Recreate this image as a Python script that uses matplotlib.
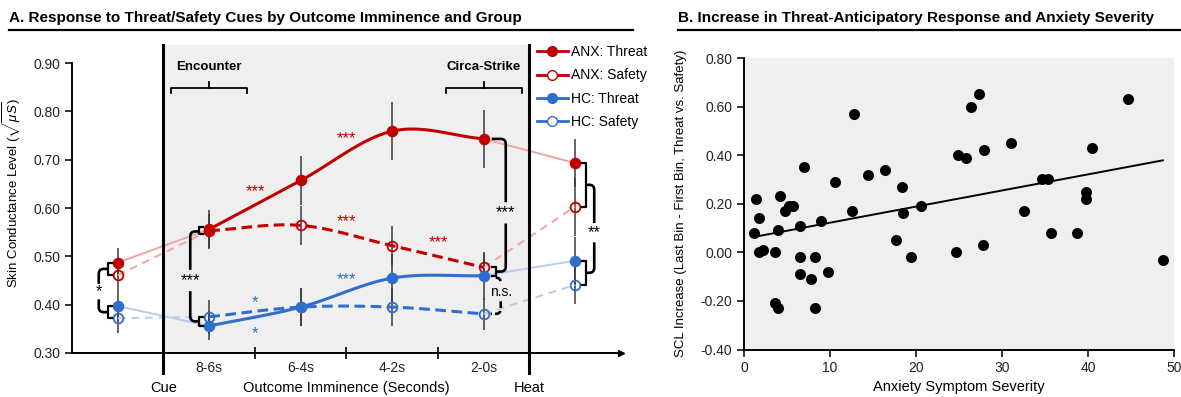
import numpy as np
import matplotlib.pyplot as plt
from matplotlib.path import Path
from matplotlib.patches import PathPatch
from matplotlib.lines import Line2D

plt.rcParams['font.family'] = ['Liberation Sans', 'DejaVu Sans']
plt.rcParams['axes.unicode_minus'] = False
plt.rcParams['mathtext.fontset'] = 'custom'
plt.rcParams['mathtext.rm'] = 'Liberation Sans'
plt.rcParams['mathtext.it'] = 'Liberation Sans:italic'

# ---- panel A data ----
bins = ['8-6s', '6-4s', '4-2s', '2-0s']
xpos = [0, 1, 2, 3, 4, 5]          # cue, 4 bins, heat
anx_threat = [0.487, 0.556, 0.657, 0.759, 0.743, 0.693]
anx_safe = [0.461, 0.553, 0.564, 0.522, 0.477, 0.603]
hc_threat = [0.397, 0.356, 0.395, 0.455, 0.460, 0.491]
hc_safe = [0.372, 0.375, 0.395, 0.395, 0.381, 0.441]
anx_threat_err = [0.030, 0.040, 0.050, 0.060, 0.060, 0.050]
anx_safe_err = [0.035, 0.035, 0.040, 0.040, 0.030, 0.060]
hc_threat_err = [0.030, 0.030, 0.040, 0.050, 0.050, 0.050]
hc_safe_err = [0.030, 0.035, 0.040, 0.040, 0.033, 0.040]

# ---- panel B data ----
severity = [12.8, 27.3, 26.4, 44.7, 24.9, 25.8, 27.9, 31.0, 40.5, 7.0,
            14.4, 16.4, 10.6, 18.4, 34.6, 35.4, 39.8, 1.4, 4.2, 39.8,
            1.7, 1.2, 4.0, 4.8, 5.2, 5.7, 6.5, 8.9, 12.5, 18.5,
            20.6, 17.7, 32.5, 35.7, 38.7, 27.8, 24.6, 19.4, 48.7, 1.7,
            2.2, 3.6, 6.5, 8.3, 6.5, 7.8, 9.8, 3.6, 4.0, 8.3]
scl_increase = [0.57, 0.65, 0.60, 0.63, 0.40, 0.39, 0.42, 0.45, 0.43, 0.35,
                0.32, 0.34, 0.29, 0.27, 0.30, 0.30, 0.25, 0.22, 0.23, 0.22,
                0.14, 0.08, 0.09, 0.17, 0.19, 0.19, 0.11, 0.13, 0.17, 0.16,
                0.19, 0.05, 0.17, 0.08, 0.08, 0.03, 0.00, -0.02, -0.03, 0.00,
                0.01, 0.00, -0.02, -0.02, -0.09, -0.11, -0.08, -0.21, -0.23, -0.23]
fit_slope = 0.00663
fit_intercept = 0.0557

RED = '#C00000'
BLUE = '#2F6FCB'
RED_L = '#F3A3A3'
BLUE_L = '#B8CCEB'

W, H = 1181, 397
fig = plt.figure(figsize=(W / 100, H / 100), dpi=100)

# pixel -> data offsets in panel A
PXX = 1 / 91.5
PXY = 1 / 483.3


def smooth(xs, ys, n=40):
    pts = np.column_stack([xs, ys]).astype(float)
    p = np.vstack([2 * pts[0] - pts[1], pts, 2 * pts[-1] - pts[-2]])
    out = []
    t = np.linspace(0, 1, n)[:, None]
    for i in range(1, len(p) - 2):
        p0, p1, p2, p3 = p[i - 1], p[i], p[i + 1], p[i + 2]
        seg = 0.5 * (2 * p1 + (-p0 + p2) * t + (2 * p0 - 5 * p1 + 4 * p2 - p3) * t ** 2
                     + (-p0 + 3 * p1 - 3 * p2 + p3) * t ** 3)
        out.append(seg)
    return np.vstack(out)


def sq_bracket(ax, x, ya, yb, tick):
    t = tick * PXX
    ax.plot([x + t, x, x, x + t], [ya, ya, yb, yb], color='black', lw=1.6,
            clip_on=False, zorder=6)


def connector(ax, x0, y0, xb, y1, x1, label, ylab, gap, r=5, ls='-', fs=12):
    rx, ry = r * PXX, r * PXY
    s0 = np.sign(xb - x0)
    s1 = np.sign(xb - x1)
    verts = [(x0, y0), (xb - s0 * rx, y0), (xb, y0), (xb, y0 - ry), (xb, ylab + gap),
             (xb, ylab - gap), (xb, y1 + ry), (xb, y1), (xb - s1 * rx, y1), (x1, y1)]
    codes = [Path.MOVETO, Path.LINETO, Path.CURVE3, Path.CURVE3, Path.LINETO,
             Path.MOVETO, Path.LINETO, Path.CURVE3, Path.CURVE3, Path.LINETO]
    ax.add_patch(PathPatch(Path(verts, codes), fill=False, lw=1.9, ls=ls,
                           edgecolor='black', clip_on=False, zorder=6))
    ax.text(xb, ylab, label, ha='center', va='center', fontsize=fs, zorder=6)


def hbrace(ax, xc, y, half_px, label):
    w = half_px * PXX
    d = 5 * PXY
    ax.plot([xc - w, xc - w, xc + w, xc + w], [y - d, y, y, y - d], color='black',
            lw=1.3, clip_on=False)
    ax.plot([xc, xc], [y, y + 6 * PXY], color='black', lw=1.3, clip_on=False)
    ax.text(xc, y + 21 * PXY, label, ha='center', va='center', fontsize=9.5,
            fontweight='bold')


# ================= Panel A =================
ax = fig.add_axes([72 / W, 1 - 353 / H, 549 / W, 308 / H])
ax.set_xlim(-0.5, 5.5)
ax.set_ylim(0.30, 0.30 + 308 * PXY)
ax.axvspan(0.5, 4.5, color='#EFEFEF', zorder=0, lw=0)
for xv in (0.5, 4.5):
    ax.plot([xv, xv], [0.30 - 20 * PXY, 0.30 + 308 * PXY], color='black', lw=2.2,
            clip_on=False, zorder=5)

series = [(anx_threat, anx_threat_err, RED, RED_L, True),
          (anx_safe, anx_safe_err, RED, RED_L, False),
          (hc_threat, hc_threat_err, BLUE, BLUE_L, True),
          (hc_safe, hc_safe_err, BLUE, BLUE_L, False)]

for vals, err, col, col_l, filled in series:
    ax.errorbar(xpos, vals, yerr=err, fmt='none', ecolor='#3A3A3A', elinewidth=1.1,
                capsize=0, zorder=2)
    ls_light = '-' if filled else (0, (4, 3))
    ax.plot(xpos[:2], vals[:2], color=col_l, lw=1.4, ls=ls_light, zorder=2.5)
    ax.plot(xpos[4:], vals[4:], color=col_l, lw=1.4, ls=ls_light, zorder=2.5)
    curve = smooth(xpos[1:5], vals[1:5])
    ls_main = '-' if filled else (0, (3.5, 1.8))
    ax.plot(curve[:, 0], curve[:, 1], color=col, lw=2.2, ls=ls_main, zorder=3)
    ax.plot(xpos, vals, ls='none', marker='o', ms=7, mec=col, mew=1.3,
            mfc=col if filled else 'none', zorder=4)

# significance stars along the curves
ax.text(1.5, 0.633, '***', color=RED, ha='center', va='center', fontsize=12)
ax.text(2.5, 0.743, '***', color=RED, ha='center', va='center', fontsize=12)
ax.text(2.5, 0.571, '***', color=RED, ha='center', va='center', fontsize=12)
ax.text(3.5, 0.528, '***', color=RED, ha='center', va='center', fontsize=12)
ax.text(2.5, 0.451, '***', color=BLUE, ha='center', va='center', fontsize=12)
ax.text(1.5, 0.405, '*', color=BLUE, ha='center', va='center', fontsize=12)
ax.text(1.5, 0.341, '*', color=BLUE, ha='center', va='center', fontsize=12)

# group brackets at cue
xs = 0 - 10 * PXX
sq_bracket(ax, xs, anx_safe[0], anx_threat[0], 4)
sq_bracket(ax, xs, hc_safe[0], hc_threat[0], 4)
connector(ax, xs, (anx_safe[0] + anx_threat[0]) / 2, 0 - 19 * PXX,
          (hc_safe[0] + hc_threat[0]) / 2, xs, '*', 0.427, 0.016)
# brackets at 8-6s
xs = 1 - 10 * PXX
sq_bracket(ax, xs, anx_safe[1] - 0.006, anx_threat[1] + 0.004, 4)
sq_bracket(ax, xs, hc_threat[1], hc_safe[1], 4)
connector(ax, xs, (anx_safe[1] + anx_threat[1]) / 2 - 0.003, 1 - 19 * PXX,
          (hc_safe[1] + hc_threat[1]) / 2, xs, '***', 0.450, 0.022)
# brackets at 2-0s
xs = 4 + 12 * PXX
sq_bracket(ax, xs, hc_threat[4], anx_safe[4], -4)
connector(ax, 4 + 8 * PXX, anx_threat[4], 4 + 22 * PXX,
          (anx_safe[4] + hc_threat[4]) / 2, xs, '***', 0.590, 0.022)
connector(ax, xs, hc_threat[4] - 0.004, 4 + 17 * PXX, hc_safe[4], 4 + 7 * PXX,
          'n.s.', 0.427, 0.020, ls=(0, (2.5, 1.2)), fs=10)
# brackets at heat
xs = 5 + 11 * PXX
sq_bracket(ax, xs, anx_safe[5], anx_threat[5], -4)
sq_bracket(ax, xs, hc_safe[5], hc_threat[5], -4)
connector(ax, xs, (anx_safe[5] + anx_threat[5]) / 2, 5 + 19 * PXX,
          (hc_safe[5] + hc_threat[5]) / 2, xs, '**', 0.549, 0.020)

# phase braces
hbrace(ax, 1, 0.8483, 38, 'Encounter')
hbrace(ax, 4, 0.8483, 38, 'Circa-Strike')

for sp in ('top', 'right'):
    ax.spines[sp].set_visible(False)
ax.spines['left'].set_bounds(0.30, 0.90)
ax.spines['left'].set_linewidth(1.4)
ax.spines['bottom'].set_linewidth(1.4)
ax.set_yticks(np.arange(0.30, 0.91, 0.10))
ax.set_yticklabels(['%.2f' % v for v in np.arange(0.30, 0.91, 0.10)])
ax.tick_params(axis='y', direction='out', length=5, width=1.3, labelsize=10,
               colors='#222222')
ax.set_xticks([1.5, 2.5, 3.5])
ax.set_xticklabels([])
ax.tick_params(axis='x', which='major', direction='inout', length=9, width=1.2)
ax.set_xticks([1, 2, 3, 4], minor=True)
ax.set_xticklabels(bins, minor=True)
ax.tick_params(axis='x', which='minor', length=0, pad=6, labelsize=10,
               labelcolor='#222222')
ax.plot([1.0], [0.0], marker='>', ms=5, color='black', transform=ax.transAxes,
        clip_on=False)
ylo = 0.30 - 35 * PXY
ax.text(0.5, ylo, 'Cue', ha='center', va='center', fontsize=10.5)
ax.text(2.5, ylo, 'Outcome Imminence (Seconds)', ha='center', va='center',
        fontsize=10.5)
ax.text(4.5, ylo, 'Heat', ha='center', va='center', fontsize=10.5)
ax.set_ylabel(r'Skin Conductance Level ($\sqrt{\mu S}$)', fontsize=9.5)
ax.yaxis.set_label_coords(-0.089, 0.52)

handles = [Line2D([], [], color=RED, lw=2, marker='o', ms=7, mfc=RED),
           Line2D([], [], color=RED, lw=2, marker='o', ms=7, mfc='white'),
           Line2D([], [], color=BLUE, lw=2, marker='o', ms=7, mfc=BLUE),
           Line2D([], [], color=BLUE, lw=2, marker='o', ms=7, mfc='white')]
fig.legend(handles, ['ANX: Threat', 'ANX: Safety', 'HC: Threat', 'HC: Safety'],
           loc='upper left', bbox_to_anchor=(537 / W, 1 - 45 / H), frameon=False,
           fontsize=10, handlelength=2.2, handletextpad=0.25, labelspacing=0.68,
           borderpad=0, borderaxespad=0)

# ================= Panel B =================
bx = fig.add_axes([744 / W, 1 - 349.5 / H, 430 / W, 291.5 / H])
bx.set_facecolor('#EFEFEF')
bx.set_xlim(0, 50)
bx.set_ylim(-0.40, 0.80)
bx.scatter(severity, scl_increase, s=48, color='black', zorder=3, clip_on=False)
fx = np.array([min(severity), max(severity)])
bx.plot(fx, fit_intercept + fit_slope * fx, color='black', lw=1.4, zorder=2)
for sp in ('top', 'right'):
    bx.spines[sp].set_visible(False)
bx.spines['left'].set_linewidth(1.4)
bx.spines['bottom'].set_linewidth(1.4)
bx.set_xticks(np.arange(0, 51, 10))
bx.set_yticks(np.arange(-0.40, 0.81, 0.20))
bx.set_yticklabels(['%.2f' % v for v in np.arange(-0.40, 0.81, 0.20)])
bx.tick_params(direction='out', length=5, width=1.3, labelsize=10, colors='#222222')
bx.set_xlabel('Anxiety Symptom Severity', fontsize=10.5, va='center')
bx.xaxis.set_label_coords(0.5, -(387 - 349.5) / 291.5)
bx.set_ylabel('SCL Increase (Last Bin - First Bin, Threat vs. Safety)', fontsize=9.5)
bx.yaxis.set_label_coords(-0.133, 0.5)

# ================= titles =================
fig.text(9 / W, 1 - 18 / H, 'A. Response to Threat/Safety Cues by Outcome Imminence and Group',
         fontsize=11, fontweight='bold', va='center', ha='left')
fig.add_artist(Line2D([9 / W, 633 / W], [1 - 30 / H] * 2, color='black', lw=1.6))
fig.text(678 / W, 1 - 18 / H, 'B. Increase in Threat-Anticipatory Response and Anxiety Severity',
         fontsize=11, fontweight='bold', va='center', ha='left')
fig.add_artist(Line2D([678 / W, 1.0], [1 - 30 / H] * 2, color='black', lw=1.6))

fig.savefig('out.png', dpi=100)
